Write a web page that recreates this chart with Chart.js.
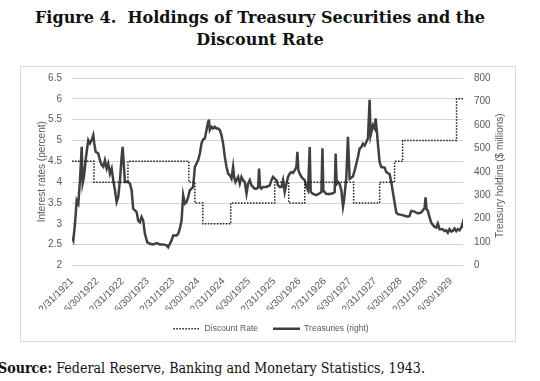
<!DOCTYPE html>
<html><head><meta charset="utf-8">
<script src="https://cdn.jsdelivr.net/npm/chart.js@4.4.0/dist/chart.umd.min.js"></script>
<style>
html,body{margin:0;padding:0;background:#fff;width:540px;height:381px;overflow:hidden;position:relative;}
#title{position:absolute;left:0;top:7px;width:520px;text-align:center;font:bold 16px/22px "DejaVu Serif",serif;color:#111;transform-origin:260px 0;white-space:nowrap;}
#frame{position:absolute;left:20px;top:66px;width:496px;height:276px;border:1px solid #d9d9d9;box-sizing:border-box;}
#chart{position:absolute;left:21px;top:67px;}
#source{position:absolute;left:-2px;top:360px;font:14px/17px "DejaVu Serif",serif;color:#111;white-space:nowrap;transform-origin:0 0;}
</style></head>
<body>
<div id="title"><span id="t1">Figure 4.&nbsp; Holdings of Treasury Securities and the</span><br><span>Discount Rate</span></div>
<div id="frame"></div>
<canvas id="chart" width="494" height="276"></canvas>
<div id="source"><span id="s1"><b>Source:</b> Federal Reserve, Banking and Monetary Statistics, 1943.</span></div>
<script>
// X tick labels (half-year steps starting 12/31/1921)
const tickLabels = ['12/31/1921','6/30/1922','12/31/1922','6/30/1923','12/31/1923','6/30/1924','12/31/1924','6/30/1925','12/31/1925','6/30/1926','12/31/1926','6/30/1927','12/31/1927','6/30/1928','12/31/1928','6/30/1929'];

// Discount rate (percent), step changes, time in decimal years (1922.0 = 12/31/1921)
const discountYear = [1922.000,1922.435,1923.107,1924.312,1924.431,1924.589,1925.142,1926.012,1926.289,1926.605,1927.573,1928.087,1928.383,1928.542,1929.609,1929.737];
const discountRate = [4.5,4.0,4.5,4.0,3.5,3.0,3.5,4.0,3.5,4.0,3.5,4.0,4.5,5.0,6.0,6.0];

// Treasury holdings ($ millions)
const treasuryYear = [
1922.000,1922.026,1922.059,1922.093,1922.125,1922.158,1922.192,1922.211,1922.237,1922.277,1922.322,1922.356,1922.389,1922.421,1922.441,1922.468,1922.520,1922.553,1922.587,1922.619,1922.652,1922.686,1922.717,1922.751,1922.785,1922.816,1922.850,1922.883,1922.915,1922.949,1922.982,1923.002,1923.028,1923.047,1923.113,1923.146,1923.180,1923.211,1923.245,1923.279,1923.310,1923.344,1923.377,1923.409,1923.443,1923.488,1923.542,1923.607,1923.674,1923.739,1923.804,1923.872,1923.903,1923.937,1923.970,1924.002,1924.069,1924.101,1924.134,1924.168,1924.200,1924.233,1924.267,1924.298,1924.332,1924.366,1924.397,1924.431,1924.464,1924.496,1924.530,
1924.563,1924.595,1924.628,1924.662,1924.694,1924.708,1924.727,1924.761,1924.792,1924.826,1924.860,1924.891,1924.925,1924.958,1924.990,1925.024,1925.057,1925.089,1925.123,1925.156,1925.188,1925.208,1925.235,1925.255,1925.287,1925.320,1925.354,1925.385,1925.419,1925.453,1925.484,1925.518,1925.551,1925.583,1925.617,1925.650,1925.682,1925.702,1925.721,1925.749,1925.781,1925.848,1925.913,1925.947,1925.978,1926.012,1926.045,1926.077,1926.111,1926.144,1926.176,1926.209,1926.243,1926.275,1926.308,1926.342,1926.374,1926.407,1926.441,1926.460,1926.480,1926.506,1926.540,1926.571,1926.605,1926.638,1926.670,1926.704,1926.723,1926.769,1926.836,
1926.901,1926.935,1926.955,1926.974,1927.000,1927.034,1927.099,1927.164,1927.198,1927.217,1927.237,1927.263,1927.296,1927.330,1927.362,1927.381,1927.409,1927.429,1927.460,1927.494,1927.559,1927.593,1927.626,1927.658,1927.692,1927.725,1927.757,1927.791,1927.824,1927.856,1927.889,1927.909,1927.955,1927.988,1928.008,1928.034,1928.053,1928.087,1928.121,1928.186,1928.219,1928.285,1928.318,1928.350,1928.383,1928.417,1928.449,1928.516,1928.581,1928.646,1928.680,1928.713,1928.779,1928.844,1928.911,1928.943,1928.976,1928.996,1929.016,1929.042,1929.075,1929.109,1929.140,1929.174,1929.208,1929.239,1929.273,1929.338,1929.372,1929.405,1929.437,1929.470,1929.504,1929.536,1929.569,1929.603,1929.634,1929.668,1929.702,1929.727,1929.737];
const treasuryValue = [
121,107,178,278,264,364,506,351,378,463,535,521,535,556,521,485,478,449,428,421,449,414,435,392,414,364,321,271,292,364,463,506,421,356,356,349,321,242,235,228,192,185,207,192,135,100,93,90,96,90,90,86,78,93,107,128,128,135,157,192,300,264,271,292,321,328,335,421,435,449,478,
521,538,542,578,613,623,578,592,585,592,585,585,578,556,521,463,421,392,385,371,421,378,356,364,378,349,378,364,356,307,349,364,342,335,328,328,332,414,335,328,335,335,342,364,378,371,364,342,335,335,364,314,349,378,392,399,395,406,421,485,406,392,378,371,364,335,321,505,314,305,300,
308,313,500,320,313,305,305,308,313,478,348,356,348,320,251,276,334,377,549,370,380,405,434,463,499,505,520,512,527,542,707,556,599,585,628,570,520,441,420,418,398,390,355,312,269,226,219,216,212,208,212,233,230,222,226,236,245,291,240,233,205,183,173,165,162,179,155,155,147,150,140,155,145,147,158,147,155,150,162,179,160];

// fit the serif texts to the reference widths
(function () {
  const t = document.getElementById('title');
  const w1 = document.getElementById('t1').getBoundingClientRect().width;
  t.style.transform = 'scaleX(' + (450 / w1) + ')';
  const s = document.getElementById('source');
  const w2 = document.getElementById('s1').getBoundingClientRect().width;
  s.style.transform = 'scaleX(' + (427 / w2) + ')';
})();

const grey = '#595959';
const tickFont = {family: '"Liberation Sans", Arial, sans-serif', size: 10};

const rightTitle = {
  id: 'rightTitle',
  afterDraw(chart) {
    const c = chart.ctx, a = chart.chartArea;
    c.save();
    c.translate(chart.width - 15, (a.top + a.bottom) / 2 + 4);
    c.rotate(-Math.PI / 2);
    c.font = '10px "Liberation Sans", Arial, sans-serif';
    c.fillStyle = grey;
    c.textAlign = 'center';
    c.textBaseline = 'middle';
    c.fillText('Treasury holdins ($ millions)', 0, 0);
    c.restore();
  }
};

new Chart(document.getElementById('chart'), {
  type: 'line',
  data: {
    datasets: [
      {label: 'Discount Rate', data: discountYear.map((x, i) => ({x, y: discountRate[i]})), yAxisID: 'y',
       borderColor: '#1e1e1e', borderWidth: 1.5, borderDash: [1.5, 1.5], stepped: true, pointRadius: 0, fill: false},
      {label: 'Treasuries (right)', data: treasuryYear.map((x, i) => ({x, y: treasuryValue[i]})), yAxisID: 'y1',
       borderColor: '#404040', borderWidth: 2.5, pointRadius: 0, tension: 0, fill: false}
    ]
  },
  options: {
    responsive: false, animation: false, devicePixelRatio: 1,
    layout: {padding: {left: 6, right: 0, top: 11, bottom: 0}},
    plugins: {
      tooltip: {enabled: false},
      legend: {
        position: 'bottom',
        labels: {
          usePointStyle: true, pointStyleWidth: 27, padding: 15, color: grey,
          font: {family: '"Liberation Sans", Arial, sans-serif', size: 8.5},
          generateLabels: chart => chart.data.datasets.map((ds, i) => ({
            text: ds.label, fillStyle: ds.borderColor, strokeStyle: ds.borderColor,
            lineWidth: ds.borderWidth, lineDash: ds.borderDash || [], lineCap: 'butt',
            pointStyle: 'line', hidden: false, datasetIndex: i, fontColor: grey
          }))
        }
      }
    },
    scales: {
      x: {
        type: 'linear', min: discountYear[0], max: discountYear[discountYear.length - 1],
        grid: {display: false}, border: {display: false},
        afterBuildTicks: s => { s.ticks = tickLabels.map((_, i) => ({value: discountYear[0] + 0.5 * i})); },
        afterFit: s => { s.height = 44; },
        ticks: {autoSkip: false, maxRotation: 45, minRotation: 45, padding: 2, color: grey, font: tickFont,
                callback: (v, i) => tickLabels[i]}
      },
      y: {
        position: 'left', min: 2, max: 6.5,
        ticks: {stepSize: 0.5, padding: 0, color: grey, font: tickFont, callback: v => String(v)},
        grid: {color: '#d4d4d4', drawTicks: true, tickLength: 10, tickColor: 'rgba(0,0,0,0)'}, border: {display: false},
        title: {display: true, text: 'Interest rates (percent)', color: grey, font: tickFont, padding: {top: 9, bottom: 0}},
        afterFit: s => { s.width = 45; }
      },
      y1: {
        position: 'right', min: 0, max: 800,
        ticks: {stepSize: 100, padding: 0, color: grey, font: tickFont},
        grid: {display: true, drawOnChartArea: false, drawTicks: true, tickLength: 11, tickColor: 'rgba(0,0,0,0)'}, border: {display: false},
        afterFit: s => { s.width = 52; }
      }
    }
  },
  plugins: [rightTitle]
});
</script>
</body></html>
